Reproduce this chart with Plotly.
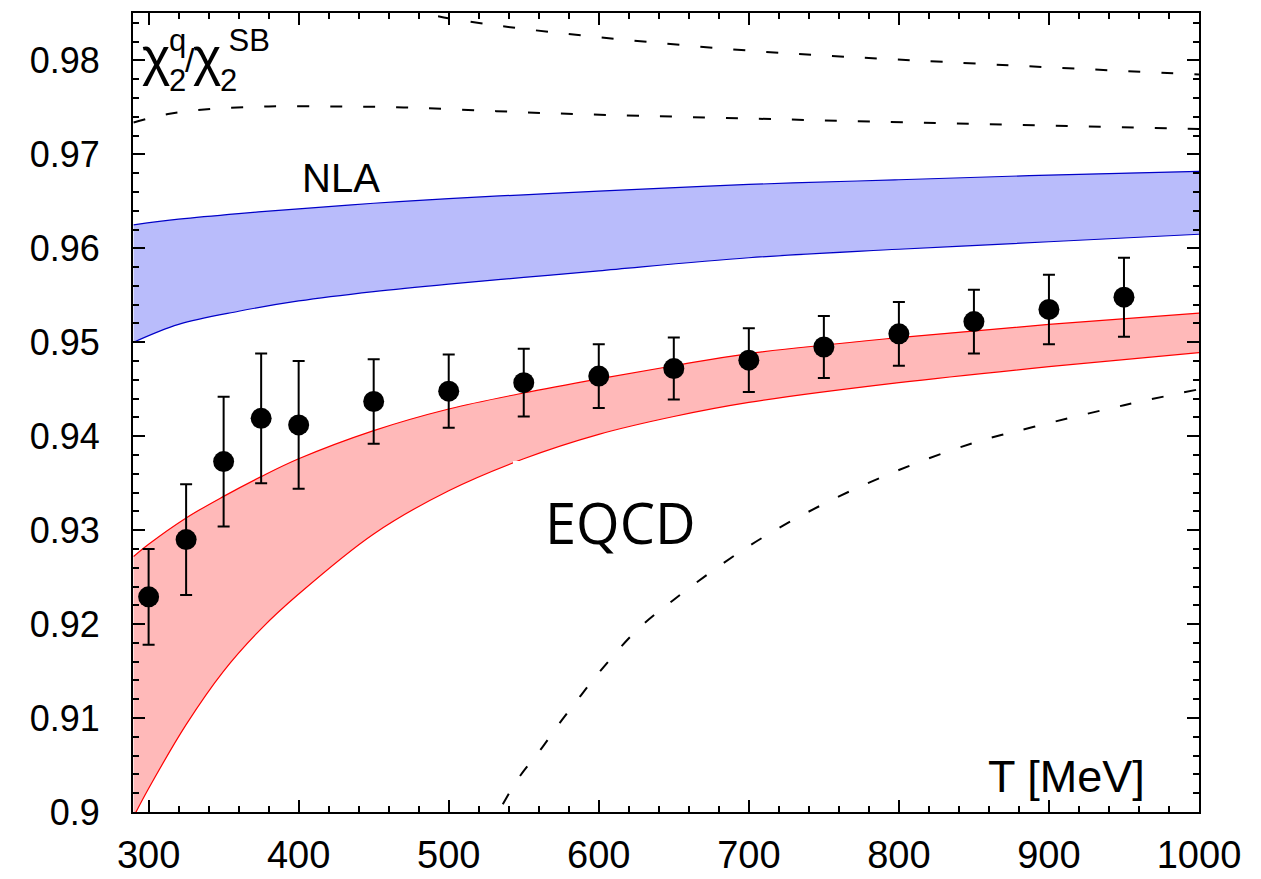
import plotly.graph_objects as go

# ---------------- data ----------------
T_data = [300, 325, 350, 375, 400, 450, 500, 550, 600, 650, 700, 750, 800, 850, 900, 950]
chi_data = [0.9229, 0.9290, 0.9373, 0.9419, 0.9412, 0.9437, 0.9448, 0.9457, 0.9464,
            0.9472, 0.9481, 0.9495, 0.9509, 0.9522, 0.9535, 0.9548]
chi_err = [0.0051, 0.0059, 0.0069, 0.0069, 0.0068, 0.0045, 0.0039, 0.0036, 0.0034,
           0.0033, 0.0034, 0.0033, 0.0034, 0.0034, 0.0037, 0.0042]

T_nla = [290, 320, 360, 400, 450, 500, 550, 600, 700, 800, 900, 1000]
nla_upper = [0.9625, 0.9631, 0.9637, 0.9642, 0.9648, 0.9653, 0.9657, 0.9661, 0.9668, 0.9673, 0.9678, 0.9682]
nla_lower = [0.9500, 0.9519, 0.9533, 0.9544, 0.9554, 0.9562, 0.9569, 0.9576, 0.9590, 0.9599, 0.9607, 0.9615]

T_eqcd = [290, 300, 325, 350, 375, 400, 450, 500, 550, 600, 650, 700, 800, 900, 1000]
eqcd_upper = [0.9272, 0.9285, 0.9313, 0.9336, 0.9357, 0.9376, 0.9406, 0.9429, 0.9446,
              0.9461, 0.9475, 0.9488, 0.9505, 0.9519, 0.9531]
eqcd_lower = [0.8995, 0.9025, 0.9093, 0.9150, 0.9195, 0.9232, 0.9296, 0.9342, 0.9376,
              0.9402, 0.9421, 0.9436, 0.9457, 0.9474, 0.9489]

T_d1 = [450, 481, 503, 569, 704, 835, 1000]
d1 = [0.9862, 0.9851, 0.9844, 0.9830, 0.9810, 0.9798, 0.9785]

T_d2 = [290, 313, 339, 380, 426, 470, 517, 564, 704, 1000]
d2 = [0.9734, 0.9743, 0.9748, 0.9751, 0.9751, 0.9750, 0.9747, 0.9744, 0.9738, 0.9727]

T_d3 = [525, 533, 546.5, 562, 575, 588, 601.5, 625, 650, 700, 750, 800, 850, 890, 950, 1000]
d3 = [0.8978, 0.9000, 0.9036, 0.9068, 0.9097, 0.9124, 0.9151, 0.9193, 0.9226, 0.9283,
      0.9328, 0.9364, 0.9393, 0.9410, 0.9433, 0.9450]

# ---------------- figure ----------------
W, H = 1261, 879
ML, MR, MT, MB = 133, 62, 13, 67
PW, PH = W - ML - MR, H - MT - MB
FONT = "Liberation Sans, Arial, Helvetica, sans-serif"


def px(x):
    return (x - ML) / PW


def py(y):
    return (H - MB - y) / PH


fig = go.Figure()

# NLA band
fig.add_trace(go.Scatter(x=T_nla, y=nla_lower, mode="lines",
                         line=dict(color="#0000c8", width=1.2, shape="spline"),
                         hoverinfo="skip", showlegend=False))
fig.add_trace(go.Scatter(x=T_nla, y=nla_upper, mode="lines", fill="tonexty",
                         fillcolor="#b9bcfb",
                         line=dict(color="#0000c8", width=1.2, shape="spline"),
                         hoverinfo="skip", showlegend=False))

# EQCD band
fig.add_trace(go.Scatter(x=T_eqcd, y=eqcd_lower, mode="lines",
                         line=dict(color="#ff0000", width=1.2, shape="spline"),
                         hoverinfo="skip", showlegend=False))
fig.add_trace(go.Scatter(x=T_eqcd, y=eqcd_upper, mode="lines", fill="tonexty",
                         fillcolor="#ffb9b9",
                         line=dict(color="#ff0000", width=1.2, shape="spline"),
                         hoverinfo="skip", showlegend=False))

# dashed curves
for tx, ty in [(T_d1, d1), (T_d2, d2), (T_d3, d3)]:
    fig.add_trace(go.Scatter(x=tx, y=ty, mode="lines",
                             line=dict(color="black", width=2, dash="12px,21px", shape="spline"),
                             hoverinfo="skip", showlegend=False))

# lattice data
fig.add_trace(go.Scatter(x=T_data, y=chi_data, mode="markers",
                         marker=dict(color="black", size=21, symbol="circle"),
                         error_y=dict(type="data", array=chi_err, visible=True,
                                      color="black", thickness=2, width=6),
                         showlegend=False))

axis_common = dict(
    showgrid=False, zeroline=False, showline=True, linecolor="black", linewidth=2,
    mirror="ticks", ticks="inside", ticklen=12, tickwidth=1.5, tickcolor="black",
    automargin=False,
)

fig.update_layout(
    width=W, height=H,
    margin=dict(l=ML, r=MR, t=MT, b=MB),
    paper_bgcolor="white", plot_bgcolor="white",
    font=dict(family=FONT, color="black"),
    xaxis=dict(range=[289.6, 1000], tickmode="linear", tick0=300, dtick=100,
               tickfont=dict(size=38, family=FONT), ticklabelstandoff=8,
               minor=dict(dtick=20, tick0=300, ticklen=6, ticks="inside",
                          tickcolor="black", tickwidth=1.5, showgrid=False),
               **axis_common),
    yaxis=dict(range=[0.9, 0.98505], tickmode="linear", tick0=0.9, dtick=0.01,
               tickfont=dict(size=36, family=FONT), ticklabelstandoff=24,
               minor=dict(dtick=0.002, tick0=0.9, ticklen=6, ticks="inside",
                          tickcolor="black", tickwidth=1.5, showgrid=False),
               **axis_common),
)

ann = []


def add_text(text, x, y, size, xanchor="left", family=FONT, align="left"):
    ann.append(dict(text=text, x=px(x), y=py(y), xref="paper", yref="paper",
                    xanchor=xanchor, yanchor="middle", showarrow=False, align=align,
                    borderpad=0, borderwidth=0,
                    font=dict(size=size, family=family, color="black")))


# chi_2^q / chi_2^SB : superscript stacked over subscript
add_text("χ", 142, 56, 54)
add_text("q<br>2", 169, 61, 31)
add_text("/", 185, 60, 34)
add_text("χ", 193, 56, 54)
add_text("&nbsp;SB<br>2", 220, 61, 31)

add_text("NLA", 341, 178, 40, xanchor="center")
add_text("EQCD", 620, 522, 56, xanchor="center", family="Open Sans, Noto Sans, sans-serif")
add_text("T [MeV]", 1145, 776, 45, xanchor="right")

fig.update_layout(annotations=ann)

# small white patch present in the original image
fig.add_shape(type="rect", xref="paper", yref="paper",
              x0=px(513), x1=px(530), y0=py(468), y1=py(461),
              fillcolor="white", line=dict(width=0), layer="above")

fig.write_html("out.html")
